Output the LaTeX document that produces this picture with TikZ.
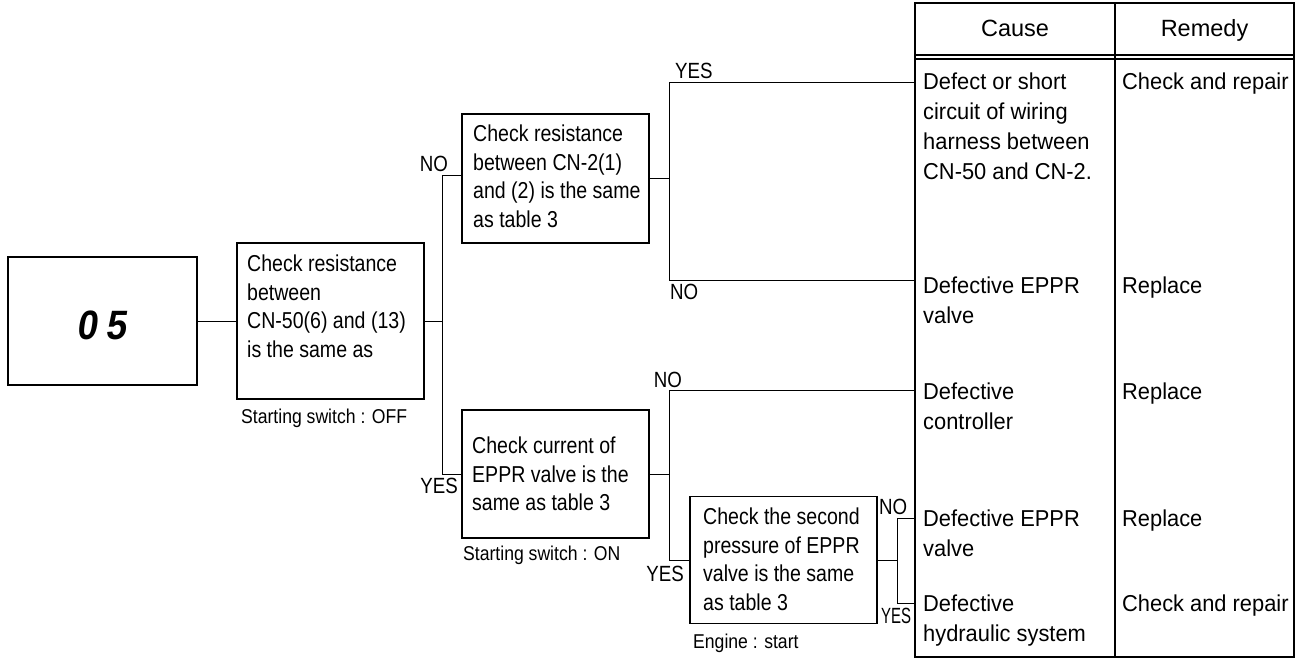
\documentclass[tikz,border=0pt]{standalone}
\usepackage{fontspec}
\setmainfont{Liberation Sans}
\newfontfamily\narrowfont[FakeStretch=0.85]{Liberation Sans}
\newfontfamily\tablefont[FakeStretch=0.95]{Liberation Sans}
\newfontfamily\notefont[FakeStretch=0.88]{Liberation Sans}
\newfontfamily\codefont[FakeStretch=0.9,FakeSlant=0.15]{Liberation Sans}
\begin{document}
\begin{tikzpicture}[x=1pt,y=-1pt,
  box/.style={draw, line width=1.3pt, inner sep=0pt},
  boxtext/.style={anchor=north west, inner sep=0pt, align=left,
    font=\narrowfont\fontsize{23}{28.5}\selectfont},
  celltext/.style={anchor=north west, inner sep=0pt, align=left,
    font=\tablefont\fontsize{23}{30}\selectfont},
  headtext/.style={anchor=base, inner sep=0pt, font=\fontsize{23.5}{28}\selectfont},
  note/.style={anchor=north west, inner sep=0pt, font=\notefont\fontsize{20}{24}\selectfont},
  yn/.style={inner sep=0pt, font=\narrowfont\fontsize{22}{26}\selectfont},
  conn/.style={line width=1pt},
  tabline/.style={line width=1.4pt}
]
\useasboundingbox (0,0) rectangle (1304,658);

% ---- decision boxes ----
\node[box, minimum width=189pt, minimum height=128pt] (code) at (102.5,321) {};
\node[inner sep=0pt, font=\codefont\fontsize{41}{41}\selectfont\bfseries] (codetxt) at (101.5,325) {0\hspace{8pt}5};

\node[box, minimum width=187pt, minimum height=156pt] (b2) at (330.5,321) {};
\node[boxtext] (t2) at (247,255) {Check resistance\\between\\CN-50(6) and (13)\\is the same as};
\node[note] (n2) at (241,409) {Starting switch : OFF};

\node[box, minimum width=187pt, minimum height=129pt] (b3) at (555.5,178.5) {};
\node[boxtext] (t3) at (473,125) {Check resistance\\between CN-2(1)\\and (2) is the same\\as table 3};

\node[box, minimum width=187pt, minimum height=128pt] (b4) at (555.5,474) {};
\node[boxtext] (t4) at (472,437) {Check current of\\EPPR valve is the\\same as table 3};
\node[note] (n4) at (463,546) {Starting switch : ON};

\node[box, minimum width=187pt, minimum height=127pt] (b5) at (783.5,560) {};
\node[boxtext] (t5) at (703,508) {Check the second\\pressure of EPPR\\valve is the same\\as table 3};
\node[note] (n5) at (693,634) {Engine : start};

% ---- cause / remedy table ----
\coordinate (tabL) at (915,0);
\draw[tabline] (915,3) rectangle (1294,657);
\draw[tabline] (1115,3) -- (1115,657);
\draw[line width=1.2pt] (915,55) -- (1294,55);
\draw[line width=1.2pt] (915,59) -- (1294,59);
\node[headtext] (hcause) at (1015,37) {Cause};
\node[headtext] (hremedy) at (1204.5,37) {Remedy};

\node[celltext] (c1) at (923,73) {Defect or short\\circuit of wiring\\harness between\\CN-50 and CN-2.};
\node[celltext] (r1) at (1122,73) {Check and repair};
\node[celltext] (c2) at (923,277) {Defective EPPR\\valve};
\node[celltext] (r2) at (1122,277) {Replace};
\node[celltext] (c3) at (923,383) {Defective\\controller};
\node[celltext] (r3) at (1122,383) {Replace};
\node[celltext] (c4) at (923,510) {Defective EPPR\\valve};
\node[celltext] (r4) at (1122,510) {Replace};
\node[celltext] (c5) at (923,595) {Defective\\hydraulic system};
\node[celltext] (r5) at (1122,595) {Check and repair};

% ---- branch points ----
\coordinate (j1) at (442,321);
\coordinate (j1n) at (442,175);
\coordinate (j1y) at (442,474);
\coordinate (j2) at (669,178.5);
\coordinate (j2y) at (669,83);
\coordinate (j2n) at (669,280);
\coordinate (j3) at (669,474);
\coordinate (j3n) at (669,390);
\coordinate (j3y) at (669,560);
\coordinate (j4) at (897,560);
\coordinate (j4n) at (897,518);
\coordinate (j4y) at (897,603);

% ---- connectors ----
\draw[conn] (code.east) -- (b2.west);
\draw[conn] (b2.east) -- (j1);
\draw[conn] (j1n) -- (j1y);
\draw[conn] (j1n) -- (j1n -| b3.west);
\draw[conn] (j1y) -- (b4.west);

\draw[conn] (b3.east) -- (j2);
\draw[conn] (j2y) -- (j2n);
\draw[conn] (j2y) -- (j2y -| tabL);
\draw[conn] (j2n) -- (j2n -| tabL);

\draw[conn] (b4.east) -- (j3);
\draw[conn] (j3n) -- (j3y);
\draw[conn] (j3n) -- (j3n -| tabL);
\draw[conn] (j3y) -- (b5.west);

\draw[conn] (b5.east) -- (j4);
\draw[conn] (j4n) -- (j4y);
\draw[conn] (j4n) -- (j4n -| tabL);
\draw[conn] (j4y) -- (j4y -| tabL);

% ---- branch labels ----
\node[yn, anchor=south east] (l1) at (448,172) {NO};
\node[yn, anchor=north east] (l2) at (458,478) {YES};
\node[yn, anchor=south west] (l3) at (675,79) {YES};
\node[yn, anchor=north west] (l4) at (670,284) {NO};
\node[yn, anchor=south] (l5) at (668,388) {NO};
\node[yn, anchor=north east] (l6) at (684,566) {YES};
\node[yn, anchor=south west] (l7) at (879,515) {NO};
\node[yn, anchor=north west] (l8) at (881,608) {\scalebox{0.8}[1]{YES}};
\end{tikzpicture}
\end{document}
